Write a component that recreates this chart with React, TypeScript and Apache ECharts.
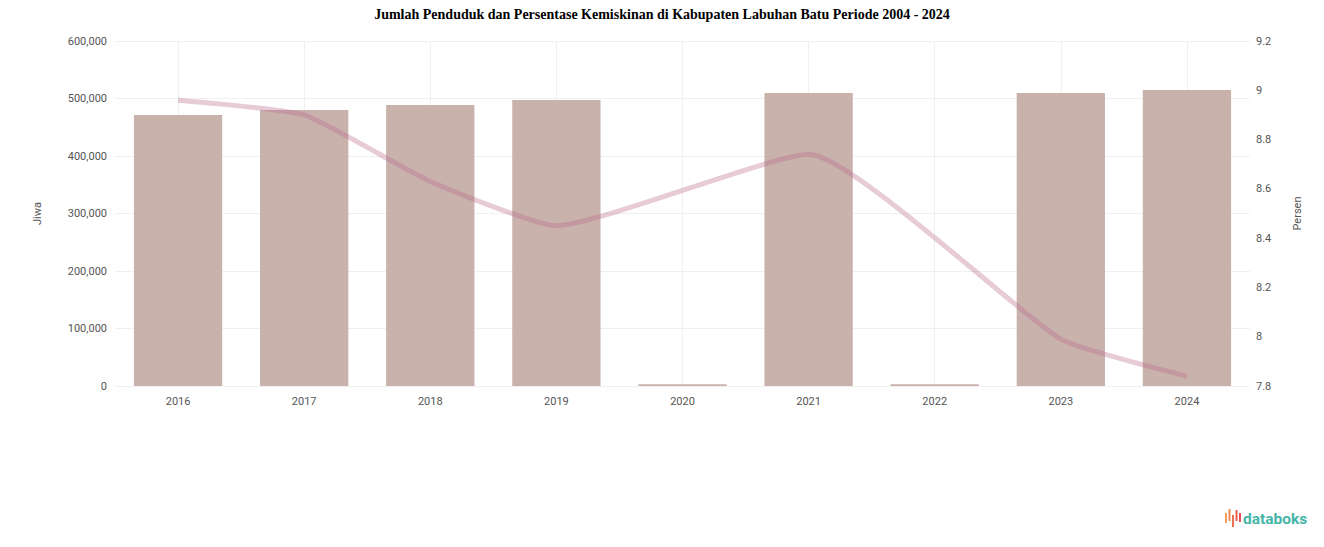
import React, { useEffect, useRef } from "react";
import * as echarts from "echarts";

const categories = ["2016", "2017", "2018", "2019", "2020", "2021", "2022", "2023", "2024"];
const populationValues = [471300, 480000, 488700, 497400, 3000, 509600, 3000, 509600, 514800];
const povertyValues: (number | null)[] = [8.96, 8.9, 8.63, 8.45, null, 8.74, null, 7.99, 7.84];
const titleText = "Jumlah Penduduk dan Persentase Kemiskinan di Kabupaten Labuhan Batu Periode 2004 - 2024";
const leftAxisName = "Jiwa";
const rightAxisName = "Persen";

export default function App() {
  const ref = useRef<HTMLDivElement>(null);
  useEffect(() => {
    if (!ref.current) return;
    const chart = echarts.init(ref.current, null, { renderer: "svg" });
    const labelStyle = { color: "#555", fontSize: 11, fontFamily: "Roboto, sans-serif" };
    chart.setOption({
      animation: false,
      title: {
        text: titleText,
        left: "center",
        top: 2,
        textStyle: {
          fontFamily: "'Liberation Serif', 'Times New Roman', serif",
          fontWeight: "bold",
          fontSize: 14,
          color: "#000",
        },
      },
      grid: { left: 115, right: 74, top: 41, bottom: 161 },
      xAxis: {
        type: "category",
        data: categories,
        axisLine: { show: false },
        axisTick: { show: false, alignWithLabel: true },
        axisLabel: { ...labelStyle, margin: 10 },
        splitLine: { show: true, alignWithLabel: true, lineStyle: { color: "#f0f0f0", width: 1 } },
      },
      yAxis: [
        {
          type: "value",
          min: 0,
          max: 600000,
          interval: 100000,
          name: leftAxisName,
          nameLocation: "middle",
          nameGap: 72,
          nameTextStyle: { ...labelStyle },
          axisLine: { show: false },
          axisTick: { show: false },
          axisLabel: { ...labelStyle, margin: 8 },
          splitLine: { lineStyle: { color: "#f0f0f0" } },
        },
        {
          type: "value",
          min: 7.8,
          max: 9.2,
          interval: 0.2,
          name: rightAxisName,
          nameLocation: "middle",
          nameGap: 42,
          nameTextStyle: { ...labelStyle },
          axisLine: { show: false },
          axisTick: { show: false },
          axisLabel: { ...labelStyle, margin: 6 },
          splitLine: { show: false },
        },
      ],
      series: [
        {
          type: "bar",
          name: leftAxisName,
          data: populationValues,
          barWidth: "70%",
          itemStyle: { color: "#c9b1ac" },
          yAxisIndex: 0,
        },
        {
          type: "line",
          name: rightAxisName,
          data: povertyValues,
          yAxisIndex: 1,
          smooth: 0.15,
          connectNulls: true,
          showSymbol: false,
          z: 5,
          lineStyle: { color: "rgba(185,105,140,0.35)", width: 5 },
        },
      ],
      graphic: [
        { type: "rect", shape: { x: 1225, y: 513, width: 2, height: 10 }, style: { fill: "#f39a5a" } },
        { type: "rect", shape: { x: 1228.5, y: 509, width: 2, height: 12 }, style: { fill: "#f08a55" } },
        { type: "rect", shape: { x: 1232, y: 515, width: 2, height: 12 }, style: { fill: "#ec6f50" } },
        { type: "rect", shape: { x: 1235.5, y: 510, width: 2, height: 11 }, style: { fill: "#ea5f4f" } },
        { type: "rect", shape: { x: 1239, y: 513, width: 2, height: 9 }, style: { fill: "#e8505b" } },
        {
          type: "text",
          x: 1243,
          y: 519,
          style: {
            text: "databoks",
            fill: "#45b5aa",
            fontSize: 15.5,
            fontWeight: "bold",
            fontFamily: "Roboto, sans-serif",
            verticalAlign: "middle",
          },
        },
      ],
    });
    return () => chart.dispose();
  }, []);
  return (
    <div
      ref={ref}
      style={{ position: "fixed", left: 0, top: 0, width: 1324, height: 547, background: "#fff" }}
    />
  );
}
